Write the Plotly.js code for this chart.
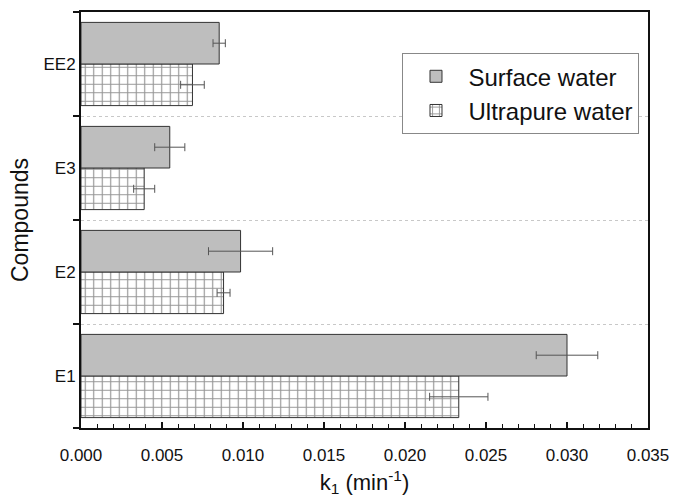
<!DOCTYPE html>
<html>
<head>
<meta charset="utf-8">
<script src="https://cdn.plot.ly/plotly-3.0.1.min.js"></script>
<style>html,body{margin:0;padding:0;background:#fff}#chart{width:673px;height:498px}</style>
</head>
<body>
<div id="chart"></div>
<script>
const compounds = ["E1", "E2", "E3", "EE2"];
const surfaceValues = [0.0300, 0.00985, 0.00548, 0.00853];
const surfaceErrors = [0.0019, 0.00198, 0.00093, 0.00038];
const ultrapureValues = [0.02332, 0.0088, 0.0039, 0.00688];
const ultrapureErrors = [0.0018, 0.0004, 0.00065, 0.00073];
const xTickValues = [0, 0.005, 0.01, 0.015, 0.02, 0.025, 0.03, 0.035];
const xTickLabels = ["0.000", "0.005", "0.010", "0.015", "0.020", "0.025", "0.030", "0.035"];

const ultrapure = {
  type: "bar", orientation: "h", name: "Ultrapure water",
  y: compounds, x: ultrapureValues, legendrank: 2,
  marker: {color: "#ffffff", line: {color: "#333333", width: 1},
    pattern: {shape: "+", size: 8.5, solidity: 0.25, fgcolor: "#2a2a2a", bgcolor: "#ffffff", fillmode: "overlay"}},
  error_x: {type: "data", array: ultrapureErrors, visible: true, color: "#555555", thickness: 1, width: 4}
};
const surface = {
  type: "bar", orientation: "h", name: "Surface water",
  y: compounds, x: surfaceValues, legendrank: 1,
  marker: {color: "#bebebe", line: {color: "#333333", width: 1}},
  error_x: {type: "data", array: surfaceErrors, visible: true, color: "#555555", thickness: 1, width: 4}
};

const layout = {
  width: 673, height: 498,
  margin: {l: 81, r: 25, t: 12, b: 70},
  paper_bgcolor: "#ffffff", plot_bgcolor: "#ffffff",
  font: {family: "Liberation Sans, Arial, sans-serif", color: "#111111", size: 17},
  barmode: "group", bargap: 0.2, bargroupgap: 0,
  showlegend: true,
  legend: {x: 0.567, y: 0.901, xanchor: "left", yanchor: "top",
    bgcolor: "#ffffff", bordercolor: "#888888", borderwidth: 1,
    font: {size: 24, color: "#111111"}, itemwidth: 55, tracegroupgap: 0},
  xaxis: {
    range: [0, 0.035], tickvals: xTickValues, ticktext: xTickLabels,
    ticks: "inside", ticklen: 6, tickwidth: 1.5, tickcolor: "#111111",
    minor: {dtick: 0.001, ticks: "inside", ticklen: 4, tickwidth: 1, tickcolor: "#111111"},
    showline: true, linecolor: "#111111", linewidth: 2, mirror: true,
    showgrid: false, zeroline: false,
    tickfont: {size: 17}, ticklabelstandoff: 11,
    title: {text: "k<sub>1</sub> (min<sup>-1</sup>)", font: {size: 22}, standoff: 10}
  },
  yaxis: {
    type: "category", categoryorder: "array", categoryarray: compounds,
    tickson: "boundaries", ticks: "outside", ticklen: 6, tickwidth: 2, tickcolor: "#111111",
    showline: true, linecolor: "#111111", linewidth: 2, mirror: true,
    showgrid: true, gridcolor: "#c8c8c8", gridwidth: 1, griddash: "dot",
    zeroline: false, tickfont: {size: 17},
    title: {text: "Compounds", font: {size: 23}, standoff: 8}
  }
};

Plotly.newPlot("chart", [ultrapure, surface], layout, {displayModeBar: false, staticPlot: true});
</script>
</body>
</html>
